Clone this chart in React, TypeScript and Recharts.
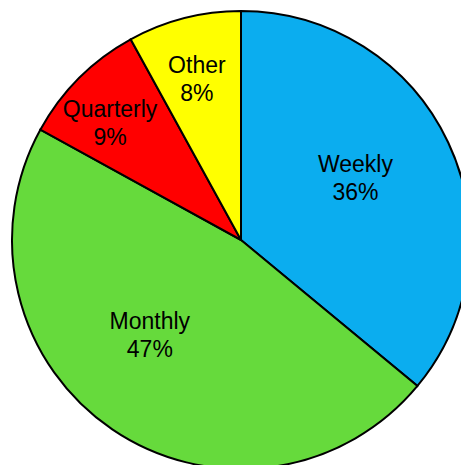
import { Cell, Pie, PieChart } from "recharts";

const CATEGORIES = ["Weekly", "Monthly", "Quarterly", "Other"];
const SHARES = [36, 47, 9, 8];
const COLORS = ["#0BADEF", "#66DA3C", "#FF0000", "#FFFF00"];

// label placement: fraction of radius + small angle nudge (deg), per slice
const LABEL_FRAC = [0.57, 0.575, 0.767, 0.73];
const LABEL_TURN = [3.5, -9.6, 3.2, 0.9];

const data = CATEGORIES.map((name, i) => ({ name, value: SHARES[i] }));

const RAD = Math.PI / 180;

type LabelProps = {
  cx?: number;
  cy?: number;
  midAngle?: number;
  outerRadius?: number;
  index?: number;
  name?: string;
  value?: number;
};

function SliceLabel({ cx = 0, cy = 0, midAngle = 0, outerRadius = 0, index = 0, name, value }: LabelProps) {
  const r = outerRadius * LABEL_FRAC[index];
  const a = midAngle + LABEL_TURN[index];
  const x = cx + r * Math.cos(-a * RAD);
  const y = cy + r * Math.sin(-a * RAD);
  return (
    <text
      x={x}
      y={y - 5.75}
      textAnchor="middle"
      fill="#000"
      fontSize={23}
      fontFamily="'Liberation Sans', Arial, sans-serif"
    >
      <tspan x={x}>{name}</tspan>
      <tspan x={x} dy={28}>{`${value}%`}</tspan>
    </text>
  );
}

export default function App() {
  return (
    <div style={{ position: "fixed", left: 0, top: 0, width: 461, height: 465, background: "#fff" }}>
      <PieChart width={461} height={465} margin={{ top: 0, right: 0, bottom: 0, left: 0 }}>
        <Pie
          data={data}
          dataKey="value"
          nameKey="name"
          cx={241}
          cy={240}
          outerRadius={229}
          startAngle={90}
          endAngle={-270}
          stroke="#000"
          strokeWidth={2}
          label={SliceLabel}
          labelLine={false}
          isAnimationActive={false}
        >
          {data.map((d, i) => (
            <Cell key={d.name} fill={COLORS[i]} />
          ))}
        </Pie>
      </PieChart>
    </div>
  );
}
